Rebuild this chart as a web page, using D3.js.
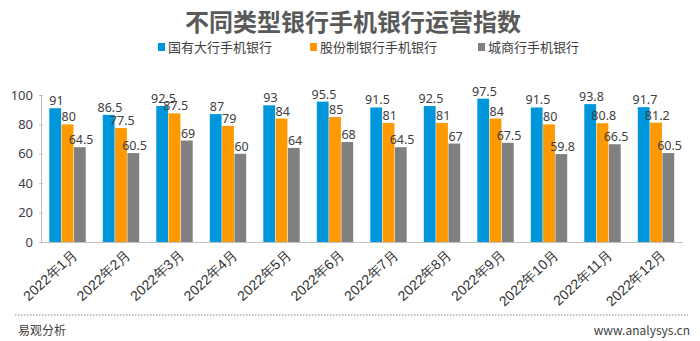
<!DOCTYPE html>
<html><head><meta charset="utf-8">
<script src="https://cdn.jsdelivr.net/npm/d3@7"></script>
<style>body{margin:0;background:#fff}svg{display:block;font-family:"Noto Sans CJK SC","Noto Sans",sans-serif}</style>
</head><body><svg id="c" width="700" height="341"></svg>
<script>
const categories = ["2022年1月","2022年2月","2022年3月","2022年4月","2022年5月","2022年6月","2022年7月","2022年8月","2022年9月","2022年10月","2022年11月","2022年12月"];
const seriesNames = ["国有大行手机银行","股份制银行手机银行","城商行手机银行"];
const bigBanks = [91,86.5,92.5,87,93,95.5,91.5,92.5,97.5,91.5,93.8,91.7];
const jointStock = [80,77.5,87.5,79,84,85,81,81,84,80,80.8,81.2];
const cityBanks = [64.5,60.5,69,60,64,68,64.5,67,67.5,59.8,66.5,60.5];
const yTicks = [0,20,40,60,80,100];
const colors = ["#0096DB","#FF9900","#808080"];

const svg = d3.select("#c");
const values = [bigBanks, jointStock, cityBanks];
const m = {l:41, r:683, t:95, b:242};
const x = d3.scaleBand().domain(categories).range([m.l, m.r]).paddingInner(0.31).paddingOuter(0.155);
const xs = d3.scaleBand().domain([0,1,2]).range([0, x.bandwidth()]);
const y = d3.scaleLinear().domain([0,100]).range([m.b, m.t]);

// title
svg.append("text").attr("x",353).attr("y",31).attr("text-anchor","middle")
  .attr("font-size",24).attr("font-weight","bold").attr("fill","#595959").text("不同类型银行手机银行运营指数");

// legend
const legX = [158, 310, 478];
seriesNames.forEach((n,i)=>{
  const g = svg.append("g").attr("transform",`translate(${legX[i]},48)`);
  g.append("rect").attr("x",0).attr("y",-5).attr("width",7).attr("height",8).attr("fill",colors[i]);
  g.append("text").attr("x",10).attr("y",4).attr("font-size",13).attr("fill","#404040").text(n);
});

// y axis
const ya = svg.append("g").attr("transform",`translate(${m.l},0)`)
  .call(d3.axisLeft(y).tickValues(yTicks).tickSize(3).tickSizeOuter(0).tickPadding(5));
ya.select(".domain").attr("stroke","#bfbfbf");
ya.selectAll(".tick line").attr("stroke","#bfbfbf").attr("x2",-2).attr("x1",2);
ya.selectAll("text").attr("font-size",13).attr("fill","#404040").attr("font-family","'Noto Sans','Noto Sans CJK SC',sans-serif");

// bars
values.forEach((arr,si)=>{
  svg.append("g").selectAll("rect").data(arr).join("rect")
    .attr("x",(d,i)=>x(categories[i])+xs(si))
    .attr("y",d=>y(d))
    .attr("width",xs.bandwidth()-0.5)
    .attr("height",d=>y(0)-y(d))
    .attr("fill",colors[si]);
  svg.append("g").selectAll("text").data(arr).join("text")
    .attr("x",(d,i)=>x(categories[i])+xs(si)+xs.bandwidth()/2+1)
    .attr("y",d=>y(d)-3)
    .attr("text-anchor","middle").attr("font-size",12.5).attr("fill","#404040")
    .attr("font-family","'Noto Sans','Noto Sans CJK SC',sans-serif")
    .text(d=>d);
});

// x axis
const xa = svg.append("g").attr("transform",`translate(0,${m.b})`)
  .call(d3.axisBottom(x).tickSize(0).tickPadding(0));
xa.select(".domain").attr("stroke","#bfbfbf").attr("d",`M${m.l},0.5H${m.r}`);
xa.selectAll(".tick text").attr("font-size",14).attr("fill","#333333")
  .attr("text-anchor","end").attr("dy",0)
  .attr("transform","translate(10,14) rotate(-43)");

// footer
svg.append("line").attr("x1",15).attr("x2",688).attr("y1",315).attr("y2",315)
  .attr("stroke","#808080").attr("stroke-width",1.2).attr("stroke-dasharray","1.5,1.5");
svg.append("text").attr("x",18).attr("y",335).attr("font-size",12).attr("fill","#404040").text("易观分析");
svg.append("text").attr("x",690).attr("y",335).attr("text-anchor","end").attr("font-size",12).attr("fill","#404040").text("www.analysys.cn");
</script></body></html>
